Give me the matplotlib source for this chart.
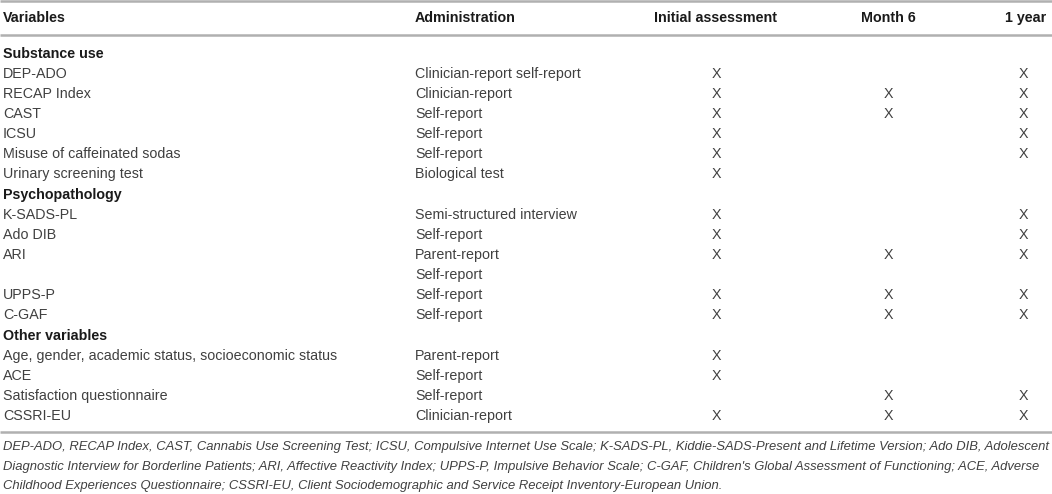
import matplotlib
matplotlib.use("Agg")
import matplotlib.pyplot as plt

# table content
headers = ["Variables", "Administration", "Initial assessment", "Month 6", "1 year"]

sections = ["Substance use", "Psychopathology", "Other variables"]

# (variable, administration, initial, month 6, 1 year)
substance_rows = [
    ("DEP-ADO", "Clinician-report self-report", 1, 0, 1),
    ("RECAP Index", "Clinician-report", 1, 1, 1),
    ("CAST", "Self-report", 1, 1, 1),
    ("ICSU", "Self-report", 1, 0, 1),
    ("Misuse of caffeinated sodas", "Self-report", 1, 0, 1),
    ("Urinary screening test", "Biological test", 1, 0, 0),
]
psycho_rows = [
    ("K-SADS-PL", "Semi-structured interview", 1, 0, 1),
    ("Ado DIB", "Self-report", 1, 0, 1),
    ("ARI", "Parent-report", 1, 1, 1),
    ("", "Self-report", 0, 0, 0),
    ("UPPS-P", "Self-report", 1, 1, 1),
    ("C-GAF", "Self-report", 1, 1, 1),
]
other_rows = [
    ("Age, gender, academic status, socioeconomic status", "Parent-report", 1, 0, 0),
    ("ACE", "Self-report", 1, 0, 0),
    ("Satisfaction questionnaire", "Self-report", 0, 1, 1),
    ("CSSRI-EU", "Clinician-report", 1, 1, 1),
]

footnote = [
    "DEP-ADO, RECAP Index, CAST, Cannabis Use Screening Test; ICSU, Compulsive Internet Use Scale; K-SADS-PL, Kiddie-SADS-Present and Lifetime Version; Ado DIB, Adolescent",
    "Diagnostic Interview for Borderline Patients; ARI, Affective Reactivity Index; UPPS-P, Impulsive Behavior Scale; C-GAF, Children's Global Assessment of Functioning; ACE, Adverse",
    "Childhood Experiences Questionnaire; CSSRI-EU, Client Sociodemographic and Service Receipt Inventory-European Union.",
]

W, H = 1052, 494
fig = plt.figure(figsize=(W / 100, H / 100), dpi=100)
ax = fig.add_axes([0, 0, 1, 1])
ax.set_xlim(0, W)
ax.set_ylim(H, 0)
ax.axis("off")

plt.rcParams['font.family'] = ['Liberation Sans', 'DejaVu Sans']
fs = 10.3
txt_col = "#404040"
bold_col = "#1a1a1a"
line_col = "#b0b0b0"

x_var = 3
x_adm = 415
x_cols = [716, 888, 1023]

# horizontal rules
for y in [1, 35, 432]:
    ax.plot([0, W], [y, y], color=line_col, lw=1.8, solid_capstyle="butt")

# header row
y_head = 18
ax.text(x_var, y_head, headers[0], fontsize=fs, fontweight="bold", color=bold_col, va="center")
ax.text(x_adm, y_head, headers[1], fontsize=fs, fontweight="bold", color=bold_col, va="center")
ax.text(x_cols[0], y_head, headers[2], fontsize=fs, fontweight="bold", color=bold_col, va="center", ha="center")
ax.text(x_cols[1], y_head, headers[3], fontsize=fs, fontweight="bold", color=bold_col, va="center", ha="center")
ax.text(1046, y_head, headers[4], fontsize=fs, fontweight="bold", color=bold_col, va="center", ha="right")

section_y = [54, 195, 336]
row_start = [74, 215, 356]
row_step = 19.9

for sec, sy, ry, rows in zip(sections, section_y, row_start, [substance_rows, psycho_rows, other_rows]):
    ax.text(x_var, sy, sec, fontsize=fs, fontweight="bold", color=bold_col, va="center")
    for i, (lab, adm, a, b, c) in enumerate(rows):
        y = ry + i * row_step
        ax.text(x_var, y, lab, fontsize=fs, color=txt_col, va="center")
        ax.text(x_adm, y, adm, fontsize=fs, color=txt_col, va="center")
        for xc, flag in zip(x_cols, [a, b, c]):
            if flag:
                ax.text(xc, y, "X", fontsize=fs, color=txt_col, va="center", ha="center")

for i, line in enumerate(footnote):
    ax.text(x_var, 447 + i * 19.5, line, fontsize=9.36, style="italic", color=txt_col, va="center")

fig.savefig("out.png", dpi=100)
